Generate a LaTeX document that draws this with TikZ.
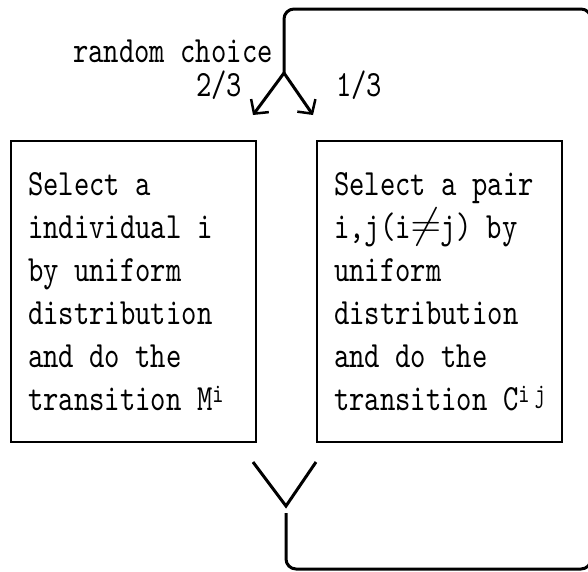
\documentclass[tikz,border=0pt]{standalone}
\usepackage{graphicx}
\usepackage{fontspec}
\usetikzlibrary{arrows.meta}
\newfontfamily\monof{lmmono10-regular.otf}[FakeStretch=0.79]
\newcommand\sups[1]{\raisebox{8pt}{\fontsize{27}{27}\selectfont #1}}
\newcommand\wideneq{\makebox[30pt]{\raisebox{1pt}{\scalebox{1.7}{$\neq$}}}}
\begin{document}
\begin{tikzpicture}[x=1pt,y=-1pt,
  loopline/.style={line width=3pt, rounded corners=10pt},
  flow/.style={line width=3pt, -{Straight Barb[length=10pt,width=22pt,line width=2.5pt]}},
  merge/.style={line width=3pt},
  frame/.style={draw, line width=2pt, minimum width=245pt, minimum height=301pt,
                anchor=north west, inner sep=0pt},
  body/.style={font=\monof\fontsize{37}{43}\selectfont, align=left,
               anchor=north west, inner sep=0pt},
  lab/.style={font=\monof\fontsize{37}{43}\selectfont, anchor=base west, inner sep=0pt}]
\useasboundingbox (0,0) rectangle (588,571);
\clip (0,0) rectangle (588,571);

% the two alternative steps
\node[frame] (mut) at (10,140) {};
\node[frame] (cross) at (316,140) {};
\node[body] (multxt) at (28,172)
  {Select a\\individual i\\by uniform\\distribution\\and do the\\transition M\sups{i}};
\node[body] (crosstxt) at (334,172)
  {Select a pair\\i,j(i\wideneq j) by\\uniform\\distribution\\and do the\\transition C\sups{i\hspace{5pt}j}};

% labels of the random branch
\node[lab] (choice) at (73,62) {random choice};
\node[lab] (pleft) at (196,96) {2/3};
\node[lab] (pright) at (336,96) {1/3};

% branch point and arrow tips
\coordinate (split) at (284,73);
\coordinate (tipl) at (253,115);
\coordinate (tipr) at (313,115);
\draw[flow] (split) -- (tipl);
\draw[flow] (split) -- (tipr);

% merge of both branches
\coordinate (vl) at (253,462);
\coordinate (vr) at (316,462);
\coordinate (vjoin) at (286,506);
\draw[merge] (vl) -- (vjoin) -- (vr);

% feedback loop back to the branch point
\coordinate (back) at (286,513);
\coordinate (bl) at (286,569);
\coordinate (br) at (591,569);
\coordinate (tr) at (591,9);
\coordinate (tl) at (284,9);
\draw[loopline] (back) -- (bl) -- (br) -- (tr) -- (tl) -- (split);
\end{tikzpicture}
\end{document}
